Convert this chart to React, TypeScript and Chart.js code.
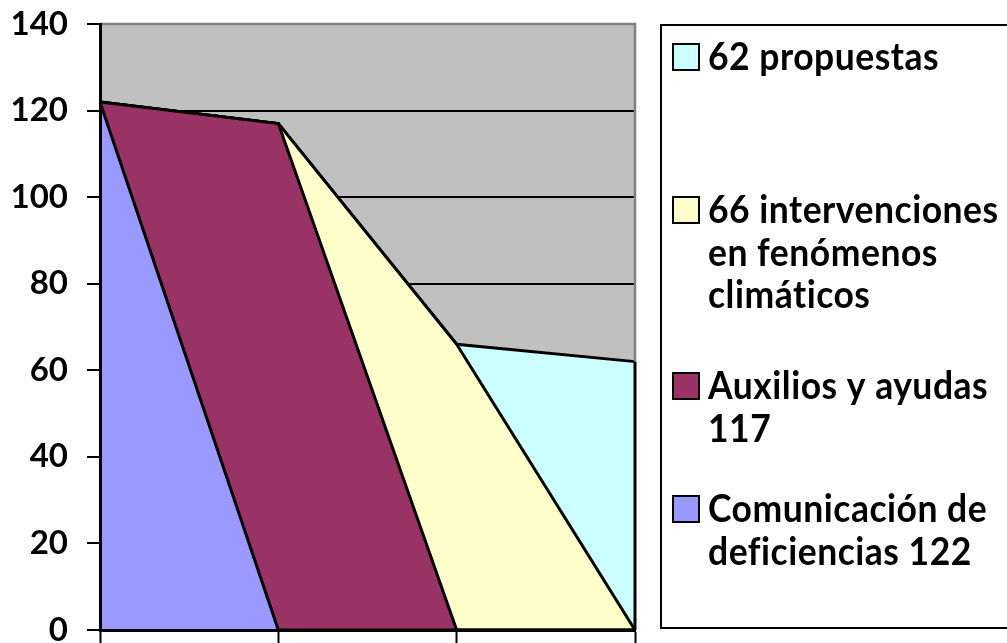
import React, { useEffect, useRef } from 'react';
import { Chart, registerables } from 'chart.js';

Chart.register(...registerables);

// ---- data ----
const categories = ['', '', '', ''];
const seriesNames = [
  'Comunicación de deficiencias 122',
  'Auxilios y ayudas 117',
  '66 intervenciones en fenómenos climáticos',
  '62 propuestas',
];
const comunicacion = [122, 0, 0, 0];
const auxilios = [0, 117, 0, 0];
const intervenciones = [0, 0, 66, 0];
const propuestas = [0, 0, 0, 62];
const yMin = 0;
const yMax = 140;
const yStep = 20;
// legend text split into lines as in the picture (same order as series)
const legendLines = [
  ['Comunicación de', 'deficiencias 122'],
  ['Auxilios y ayudas', '117'],
  ['66 intervenciones', 'en fenómenos', 'climáticos'],
  ['62 propuestas'],
];
const seriesColors = ['#9999FF', '#993366', '#FFFFCC', '#CCFFFF'];

// ---- styling / layout constants ----
const LEGEND = {
  boxLeft: 661,
  boxTop: 25,
  boxBottom: 628,
  markerX: 673,
  markerSize: 26,
  textX: 708,
  // first-line baselines, top-to-bottom (legend is in reverse series order)
  baselines: [70, 223, 399, 522],
  lineHeight: 42.5,
  font: 'bold 35.5px Lato',
  letterSpacing: '0.5px',
  scaleY: 1.1,
};

const framePlugin = {
  id: 'frame',
  beforeDraw(chart: any) {
    const { ctx, chartArea: a } = chart;
    ctx.save();
    ctx.fillStyle = '#C0C0C0';
    ctx.fillRect(a.left, a.top, a.right - a.left, a.bottom - a.top);
    ctx.restore();
  },
  afterDatasetsDraw(chart: any) {
    const { ctx, chartArea: a } = chart;
    const meta = chart.getDatasetMeta(chart.data.datasets.length - 1);
    const last = meta.data[meta.data.length - 1];
    const y0 = chart.scales.y.getPixelForValue(0);
    ctx.save();
    ctx.lineCap = 'butt';
    ctx.strokeStyle = '#808080';
    ctx.lineWidth = 2.5;
    ctx.beginPath();
    ctx.moveTo(a.left, a.top);
    ctx.lineTo(a.right, a.top);
    ctx.lineTo(a.right, last.y);
    ctx.stroke();
    ctx.strokeStyle = '#000';
    ctx.lineWidth = 3;
    ctx.beginPath();
    ctx.moveTo(last.x, last.y);
    ctx.lineTo(last.x, y0);
    ctx.stroke();
    ctx.restore();
  },
  afterDraw(chart: any) {
    const { ctx } = chart;
    const n = chart.data.datasets.length;
    ctx.save();
    ctx.strokeStyle = '#000';
    ctx.lineWidth = 2;
    ctx.strokeRect(LEGEND.boxLeft, LEGEND.boxTop, chart.width + 20 - LEGEND.boxLeft, LEGEND.boxBottom - LEGEND.boxTop);
    ctx.font = LEGEND.font;
    try {
      (ctx as any).letterSpacing = LEGEND.letterSpacing;
    } catch (e) {}
    ctx.textBaseline = 'alphabetic';
    ctx.textAlign = 'left';
    for (let k = 0; k < n; k++) {
      const i = n - 1 - k;
      const ds = chart.data.datasets[i];
      const base = LEGEND.baselines[k];
      ctx.fillStyle = ds.backgroundColor;
      ctx.fillRect(LEGEND.markerX, base - LEGEND.markerSize, LEGEND.markerSize, LEGEND.markerSize);
      ctx.lineWidth = 2;
      ctx.strokeStyle = '#000';
      ctx.strokeRect(LEGEND.markerX, base - LEGEND.markerSize, LEGEND.markerSize, LEGEND.markerSize);
      ctx.fillStyle = '#000';
      legendLines[i].forEach((line, j) => {
        ctx.save();
        ctx.translate(LEGEND.textX, base + j * LEGEND.lineHeight);
        ctx.scale(1, LEGEND.scaleY);
        ctx.fillText(line, 0, 0);
        ctx.restore();
      });
    }
    ctx.restore();
  },
};

export default function App() {
  const ref = useRef<HTMLCanvasElement>(null);
  useEffect(() => {
    let chart: Chart | null = null;
    let cancelled = false;
    const build = () => {
      if (cancelled || !ref.current) return;
      const values = [comunicacion, auxilios, intervenciones, propuestas];
      chart = new Chart(ref.current, {
        type: 'line',
        data: {
          labels: categories,
          datasets: values.map((v, i) => ({
            label: seriesNames[i],
            data: v,
            backgroundColor: seriesColors[i],
            borderColor: '#000',
            borderWidth: 3,
            fill: i === 0 ? 'origin' : '-1',
            pointRadius: 0,
            tension: 0,
          })),
        },
        options: {
          animation: false,
          responsive: false,
          maintainAspectRatio: false,
          layout: { padding: { top: 24, right: 372, bottom: 0, left: 0 } },
          plugins: { legend: { display: false }, tooltip: { enabled: false } },
          scales: {
            x: {
              type: 'category',
              offset: false,
              ticks: { display: false },
              grid: {
                display: true,
                drawOnChartArea: false,
                drawTicks: true,
                tickLength: 13,
                tickColor: '#000',
                tickWidth: 2,
              },
              border: { display: true, color: '#000', width: 3, z: 1 },
            },
            y: {
              stacked: true,
              min: yMin,
              max: yMax,
              ticks: {
                stepSize: yStep,
                color: '#000',
                padding: 19,
                font: { family: 'Lato', weight: 'bold', size: 33 },
              },
              grid: {
                color: (c: any) => (c.tick && c.tick.value === yMax ? '#808080' : '#000'),
                lineWidth: 2,
                drawTicks: true,
                tickLength: 13,
                tickColor: '#000',
                tickWidth: 2,
              },
              border: { display: true, color: '#000', width: 3, z: 1 },
              afterFit: (s: any) => {
                s.width = 100;
                s.paddingTop = 0;
                s.paddingBottom = 0;
              },
            },
          },
        },
        plugins: [framePlugin],
      } as any);
    };
    const fonts = (document as any).fonts;
    if (fonts && fonts.load) {
      Promise.all([fonts.load('bold 33px Lato'), fonts.load('bold 35.5px Lato')])
        .catch(() => {})
        .then(build);
    } else {
      build();
    }
    return () => {
      cancelled = true;
      if (chart) chart.destroy();
    };
  }, []);
  return (
    <div style={{ position: 'absolute', left: 0, top: 0, width: 1007, height: 643 }}>
      <canvas ref={ref} width={1007} height={643} style={{ display: 'block' }} />
    </div>
  );
}
